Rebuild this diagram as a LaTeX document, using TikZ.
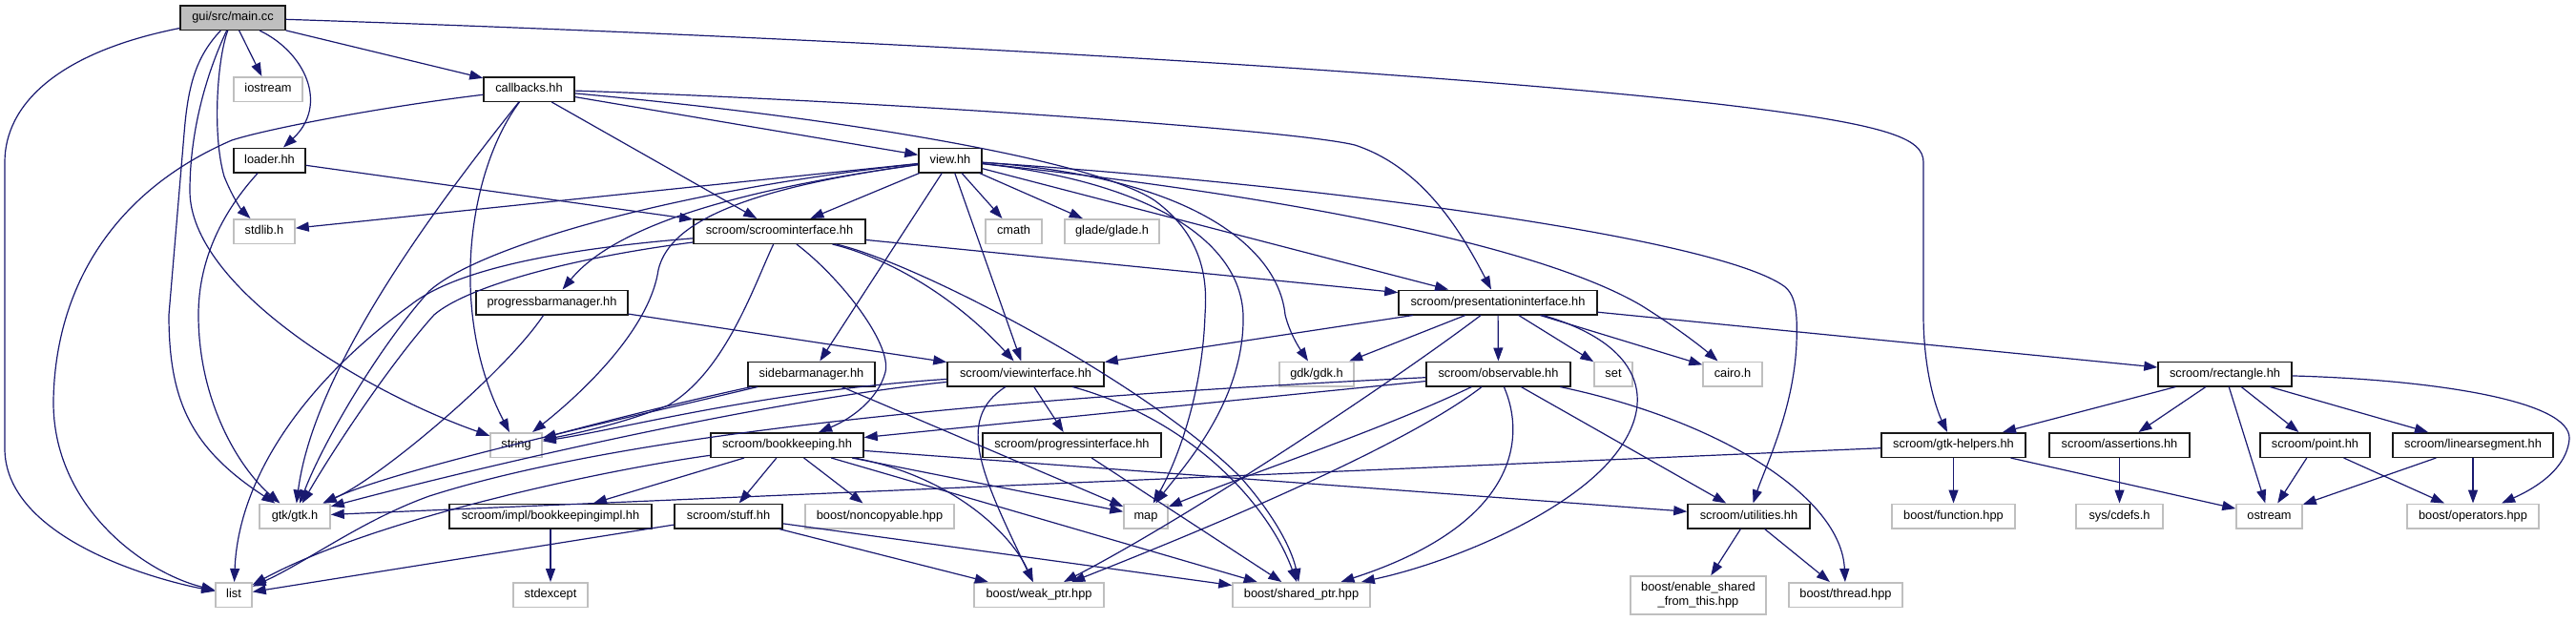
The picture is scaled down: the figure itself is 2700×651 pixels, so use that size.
\documentclass[tikz,border=0pt]{standalone}
\usepackage{fontspec}
\setmainfont{Liberation Sans}
\usetikzlibrary{arrows.meta}
\definecolor{edgec}{HTML}{191970}
\definecolor{extc}{HTML}{BFBFBF}
\definecolor{rootc}{HTML}{BFBFBF}
\begin{document}
\begin{tikzpicture}[x=1pt,y=-1pt,
  box/.style={draw=black!90, line width=1.5pt, rectangle, inner sep=0pt, minimum height=25.5pt,
    font=\fontsize{12.8}{14}\selectfont, text height=9.4pt, text depth=2.6pt},
  doc/.style={box},
  ext/.style={box, draw=extc},
  root/.style={box, fill=rootc},
  e/.style={draw=edgec, line width=1.2pt, -{Triangle[length=14pt,width=10pt]}},
]
\useasboundingbox (0,0) rectangle (2700,651);
% nodes
\node[root, minimum width=110pt] (main) at (244,18.5) {gui/src/main.cc};
\node[ext, minimum width=72pt] (iostream) at (281,93.5) {iostream};
\node[doc, minimum width=95pt] (callbacks) at (554.5,93.5) {callbacks.hh};
\node[doc, minimum width=75pt] (loader) at (282.5,168) {loader.hh};
\node[doc, minimum width=66pt] (view) at (996,168) {view.hh};
\node[ext, minimum width=64pt] (stdlib) at (277,242.5) {stdlib.h};
\node[doc, minimum width=180pt] (scroomif) at (817,242.5) {scroom/scroominterface.hh};
\node[ext, minimum width=59pt] (cmath) at (1062.5,242.5) {cmath};
\node[ext, minimum width=99pt] (glade) at (1165.5,242.5) {glade/glade.h};
\node[doc, minimum width=159pt] (progressbar) at (578.5,317) {progressbarmanager.hh};
\node[doc, minimum width=208pt] (presentationif) at (1570,317) {scroom/presentationinterface.hh};
\node[doc, minimum width=133pt] (sidebar) at (850.5,392) {sidebarmanager.hh};
\node[doc, minimum width=164pt] (viewif) at (1075,392) {scroom/viewinterface.hh};
\node[ext, minimum width=78pt] (gdk) at (1380,392) {gdk/gdk.h};
\node[doc, minimum width=151pt] (observable) at (1570.5,392) {scroom/observable.hh};
\node[ext, minimum width=40pt] (set) at (1691,392) {set};
\node[ext, minimum width=62pt] (cairo) at (1816,392) {cairo.h};
\node[doc, minimum width=140pt] (rectangle) at (2332,392) {scroom/rectangle.hh};
\node[ext, minimum width=54pt] (string) at (541,466.5) {string};
\node[doc, minimum width=160pt] (bookkeeping) at (825,466.5) {scroom/bookkeeping.hh};
\node[doc, minimum width=187pt] (progressif) at (1123.5,466.5) {scroom/progressinterface.hh};
\node[doc, minimum width=151pt] (gtkhelpers) at (2047.5,466.5) {scroom/gtk-helpers.hh};
\node[doc, minimum width=147pt] (assertions) at (2221.5,466.5) {scroom/assertions.hh};
\node[doc, minimum width=115pt] (point) at (2426.5,466.5) {scroom/point.hh};
\node[doc, minimum width=168pt] (linearseg) at (2592,466.5) {scroom/linearsegment.hh};
\node[ext, minimum width=74pt] (gtk) at (309,541) {gtk/gtk.h};
\node[doc, minimum width=212pt] (bkimpl) at (577,541) {scroom/impl/bookkeepingimpl.hh};
\node[doc, minimum width=113pt] (stuff) at (763.5,541) {scroom/stuff.hh};
\node[ext, minimum width=156pt] (noncopyable) at (922,541) {boost/noncopyable.hpp};
\node[ext, minimum width=46pt] (map) at (1201,541) {map};
\node[doc, minimum width=128pt] (utilities) at (1833,541) {scroom/utilities.hh};
\node[ext, minimum width=129pt] (function) at (2047.5,541) {boost/function.hpp};
\node[ext, minimum width=91pt] (cdefs) at (2221.5,541) {sys/cdefs.h};
\node[ext, minimum width=69pt] (ostream) at (2378.5,541) {ostream};
\node[ext, minimum width=138pt] (operators) at (2592,541) {boost/operators.hpp};
\node[ext, minimum width=38pt] (list) at (245,623.5) {list};
\node[ext, minimum width=78pt] (stdexcept) at (577,623.5) {stdexcept};
\node[ext, minimum width=136pt] (weakptr) at (1089,623.5) {boost/weak\_ptr.hpp};
\node[ext, minimum width=144pt] (sharedptr) at (1364,623.5) {boost/shared\_ptr.hpp};
\node[draw=extc, line width=1.5pt, rectangle, inner sep=0pt, minimum width=142pt, minimum height=40pt,
  align=center, font=\fontsize{12.8}{15}\selectfont] (enableshared) at (1780,624) {boost/enable\_shared\\\_from\_this.hpp};
\node[ext, minimum width=119pt] (thread) at (1934.5,623.5) {boost/thread.hpp};

% main.cc
\draw[e] (main) -- (iostream);
\draw[e] (main) .. controls (320,55) and (345,110) .. (loader);
\draw[e] (main) .. controls (228,60) and (222,140) .. (235,185) .. controls (245,210) and (255,222) .. (stdlib);
\draw[e] (main) -- (callbacks);
\draw[e] (main) .. controls (60,55) and (5,110) .. (5,170) -- (5,470) .. controls (5,560) and (150,605) .. (list);
\draw[e] (main) .. controls (205,60) and (197,90) .. (193,140) -- (177,330) .. controls (177,420) and (200,470) .. (gtk);
\draw[e] (main) .. controls (215,80) and (199,140) .. (199,200) .. controls (199,300) and (380,410) .. (string);
\draw[e] (main) .. controls (900,40) and (1500,75) .. (1800,109) .. controls (1980,130) and (2016,145) .. (2016,170) -- (2016,330) .. controls (2016,390) and (2030,430) .. (gtkhelpers);
% loader
\draw[e] (loader) .. controls (235,220) and (208,270) .. (208,330) .. controls (208,420) and (250,490) .. (gtk);
\draw[e] (loader) -- (scroomif);
% callbacks
\draw[e] (callbacks) .. controls (400,112) and (280,135) .. (243,147) .. controls (120,200) and (58,300) .. (56,420) .. controls (55,530) and (150,600) .. (list);
\draw[e] (callbacks) .. controls (470,200) and (330,380) .. (gtk);
\draw[e] (callbacks) .. controls (490,180) and (470,330) .. (string);
\draw[e] (callbacks) -- (scroomif);
\draw[e] (callbacks) -- (view);
\draw[e] (callbacks) .. controls (900,105) and (1350,135) .. (1420,152) .. controls (1490,175) and (1530,240) .. (presentationif);
\draw[e] (callbacks) .. controls (900,125) and (1150,170) .. (1210,210) .. controls (1265,250) and (1265,300) .. (1263,330) .. controls (1260,420) and (1230,490) .. (map);
% view
\draw[e] (view) -- (stdlib);
\draw[e] (view) -- (scroomif);
\draw[e] (view) .. controls (700,200) and (500,260) .. (450,305) .. controls (400,360) and (340,460) .. (gtk);
\draw[e] (view) .. controls (760,200) and (700,240) .. (690,283) .. controls (680,350) and (600,420) .. (string);
\draw[e] (view) .. controls (800,195) and (650,230) .. (progressbar);
\draw[e] (view) -- (sidebar);
\draw[e] (view) -- (viewif);
\draw[e] (view) -- (cmath);
\draw[e] (view) -- (glade);
\draw[e] (view) .. controls (1200,190) and (1300,250) .. (1303,330) .. controls (1305,420) and (1240,490) .. (map);
\draw[e] (view) .. controls (1250,185) and (1340,260) .. (1347,330) .. controls (1352,350) and (1362,365) .. (gdk);
\draw[e] (view) -- (presentationif);
\draw[e] (view) .. controls (1300,200) and (1600,250) .. (1720,320) .. controls (1760,345) and (1785,365) .. (cairo);
\draw[e] (view) .. controls (1400,195) and (1800,250) .. (1870,300) .. controls (1883,310) and (1884,330) .. (1883,360) .. controls (1880,430) and (1850,490) .. (utilities);
% scroominterface
\draw[e] (scroomif) .. controls (600,260) and (480,280) .. (430,320) .. controls (320,400) and (250,500) .. (list);
\draw[e] (scroomif) .. controls (600,270) and (490,300) .. (455,330) .. controls (410,380) and (350,470) .. (gtk);
\draw[e] (scroomif) .. controls (790,300) and (760,390) .. (700,425) .. controls (650,445) and (600,455) .. (string);
\draw[e] (scroomif) .. controls (880,290) and (935,360) .. (928,390) .. controls (920,420) and (890,440) .. (bookkeeping);
\draw[e] (scroomif) .. controls (930,270) and (1000,310) .. (viewif);
\draw[e] (scroomif) .. controls (960,275) and (1200,400) .. (1300,500) .. controls (1340,545) and (1355,580) .. (sharedptr);
\draw[e] (scroomif) -- (presentationif);
% progressbarmanager
\draw[e] (progressbar) .. controls (530,390) and (400,500) .. (gtk);
\draw[e] (progressbar) -- (viewif);
% presentationinterface
\draw[e] (presentationif) -- (viewif);
\draw[e] (presentationif) -- (gdk);
\draw[e] (presentationif) -- (observable);
\draw[e] (presentationif) -- (set);
\draw[e] (presentationif) -- (cairo);
\draw[e] (presentationif) .. controls (1460,400) and (1250,540) .. (weakptr);
\draw[e] (presentationif) .. controls (1720,360) and (1740,420) .. (1690,480) .. controls (1640,540) and (1520,590) .. (sharedptr);
\draw[e] (presentationif) -- (rectangle);
% observable
\draw[e] (observable) -- (bookkeeping);
\draw[e] (observable) .. controls (1200,410) and (700,440) .. (450,520) .. controls (380,545) and (320,590) .. (list);
\draw[e] (observable) .. controls (1450,450) and (1300,500) .. (map);
\draw[e] (observable) .. controls (1470,470) and (1250,560) .. (weakptr);
\draw[e] (observable) .. controls (1600,460) and (1590,550) .. (sharedptr);
\draw[e] (observable) -- (utilities);
\draw[e] (observable) .. controls (1800,440) and (1930,520) .. (thread);
% sidebarmanager
\draw[e] (sidebar) .. controls (720,420) and (640,440) .. (string);
\draw[e] (sidebar) .. controls (650,440) and (420,490) .. (gtk);
\draw[e] (sidebar) -- (map);
% viewinterface
\draw[e] (viewif) .. controls (800,410) and (650,450) .. (string);
\draw[e] (viewif) .. controls (800,420) and (500,490) .. (gtk);
\draw[e] (viewif) -- (progressif);
\draw[e] (viewif) .. controls (1000,440) and (1030,500) .. (weakptr);
\draw[e] (viewif) .. controls (1250,440) and (1330,530) .. (sharedptr);
% bookkeeping
\draw[e] (bookkeeping) -- (bkimpl);
\draw[e] (bookkeeping) -- (stuff);
\draw[e] (bookkeeping) -- (noncopyable);
\draw[e] (bookkeeping) -- (map);
\draw[e] (bookkeeping) .. controls (1000,500) and (1060,560) .. (weakptr);
\draw[e] (bookkeeping) -- (sharedptr);
\draw[e] (bookkeeping) -- (utilities);
\draw[e] (bookkeeping) .. controls (650,490) and (400,540) .. (list);
% others
\draw[e] (progressif) -- (sharedptr);
\draw[e] (stuff) -- (list);
\draw[e] (stuff) -- (weakptr);
\draw[e] (stuff) -- (sharedptr);
\draw[e] (bkimpl) -- (stdexcept);
\draw[e] (utilities) -- (enableshared);
\draw[e] (utilities) -- (thread);
\draw[e] (gtkhelpers) -- (gtk);
\draw[e] (gtkhelpers) -- (function);
\draw[e] (gtkhelpers) -- (ostream);
\draw[e] (rectangle) -- (gtkhelpers);
\draw[e] (rectangle) -- (assertions);
\draw[e] (rectangle) -- (ostream);
\draw[e] (rectangle) -- (point);
\draw[e] (rectangle) -- (linearseg);
\draw[e] (rectangle) .. controls (2550,398) and (2695,420) .. (2693,460) .. controls (2690,495) and (2650,515) .. (operators);
\draw[e] (assertions) -- (cdefs);
\draw[e] (point) -- (ostream);
\draw[e] (point) -- (operators);
\draw[e] (linearseg) -- (ostream);
\draw[e] (linearseg) -- (operators);
\end{tikzpicture}
\end{document}
